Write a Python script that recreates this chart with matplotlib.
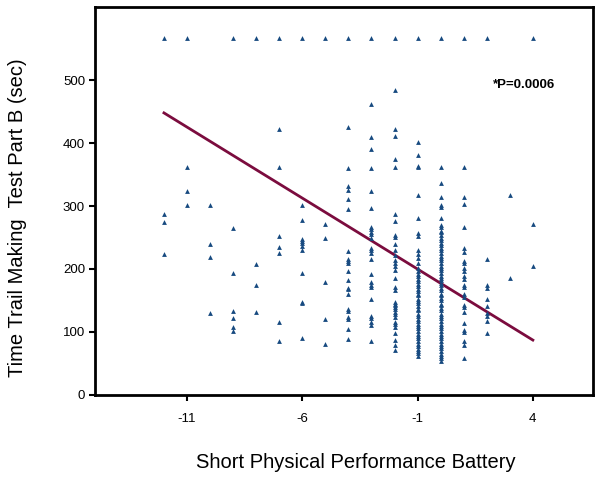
import numpy as np
import matplotlib.pyplot as plt

plt.rcParams['font.family'] = ['Liberation Sans', 'DejaVu Sans']
plt.rcParams['axes.unicode_minus'] = False

# values, one list per x column
top_x = [-12, -11, -9, -8, -7, -6, -5, -4, -3, -2, -1, 0, 1, 2, 4]
top_y = 567

cols = {
    -12: [287, 275, 224],
    -11: [362, 324, 302],
    -10: [302, 240, 219, 130],
    -9: [265, 193, 133, 122, 108, 101],
    -8: [208, 174, 131],
    -7: [422, 362, 253, 235, 226, 116, 86],
    -6: [301, 278, 248, 244, 241, 237, 230, 194, 148, 146, 90],
    -5: [271, 249, 179, 121, 81],
    -4: [425, 361, 332, 326, 311, 296, 229, 216, 212, 209, 196, 183, 170, 168,
         160, 136, 133, 124, 121, 105, 88],
    -3: [462, 410, 391, 361, 324, 297, 266, 263, 259, 256, 249, 233, 230, 226,
         216, 192, 179, 175, 171, 152, 125, 122, 116, 111, 86],
    -2: [484, 422, 412, 374, 362, 287, 277, 254, 251, 240, 230, 222, 214, 209,
         204, 198, 185, 172, 167, 148, 145, 142, 139, 136, 132, 128, 124, 116,
         112, 108, 98, 87, 79, 71],
    -1: [402, 381, 364, 362, 317, 281, 257, 252, 230, 223, 217, 209, 201, 197,
         192, 189, 184, 181, 176, 173, 168, 165, 161, 158, 153, 149, 146, 141,
         137, 134, 129, 125, 121, 118, 113, 109, 106, 101, 97, 93, 90, 85, 81,
         78, 73, 69, 66, 61],
    0: [362, 336, 315, 302, 298, 281, 270, 266, 261, 258, 254, 249, 246, 242,
        238, 233, 230, 226, 221, 218, 214, 210, 205, 202, 198, 194, 189, 186,
        182, 177, 174, 170, 166, 161, 158, 154, 150, 145, 142, 138, 134, 129,
        126, 122, 118, 113, 110, 106, 102, 97, 94, 90, 86, 81, 78, 74, 70, 65,
        62, 58, 54],
    1: [362, 315, 304, 267, 233, 227, 212, 209, 201, 197, 189, 184, 175, 172,
        160, 156, 143, 139, 131, 114, 103, 100, 85, 79, 58],
    2: [216, 175, 170, 153, 141, 130, 125, 117, 99],
    3: [317, 185],
    4: [271, 205],
}

fit_x = [-12, 4]
fit_y = [448, 87]

xs, ys = [], []
for k, v in cols.items():
    xs += [k] * len(v)
    ys += v
xs += top_x
ys += [top_y] * len(top_x)

fig = plt.figure(figsize=(6, 4.78), dpi=100)
ax = fig.add_axes([0.158, 0.174, 0.83, 0.811])

ax.scatter(xs, ys, marker='^', s=12, color='#174a80', linewidths=0, zorder=3)
ax.plot(fit_x, fit_y, color='#7b0c3e', lw=2, zorder=2)

ax.text(2.25, 492, '*P=0.0006', fontsize=9.5, fontweight='bold',
        va='center', ha='left')

ax.set_xlim(-15, 6.6)
ax.set_ylim(0, 616)
ax.set_xticks([-11, -6, -1, 4])
ax.set_yticks([0, 100, 200, 300, 400, 500])
ax.tick_params(direction='out', length=4, width=1.5, labelsize=9.5, pad=3)
ax.tick_params(axis='x', pad=9)
for s in ax.spines.values():
    s.set_linewidth(2)

ax.set_xlabel('Short Physical Performance Battery', fontsize=14.5)
ax.set_ylabel('Time Trail Making  Test Part B (sec)', fontsize=14.5)
ax.xaxis.set_label_coords(0.524, -0.175)
ax.yaxis.set_label_coords(-0.155, 0.457)
ax.xaxis.label.set_va('center')
ax.yaxis.label.set_va('center')

fig.savefig('out.png', dpi=100)
